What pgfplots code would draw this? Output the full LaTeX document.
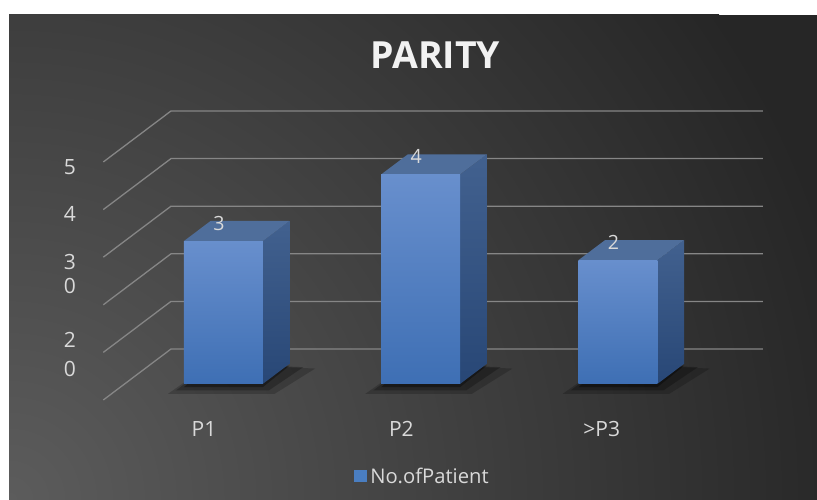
\documentclass[border=0pt]{standalone}
\usepackage{fontspec}
\setmainfont{Open Sans}
\usepackage{pgfplots}
\usepackage{pgfplotstable}
\pgfplotsset{compat=1.18}
\definecolor{bgdark}{RGB}{38,38,38}
\definecolor{bglight}{RGB}{92,92,92}
\definecolor{gridcol}{RGB}{134,134,134}
\definecolor{fronttop}{RGB}{104,143,205}
\definecolor{frontbot}{RGB}{62,111,180}
\definecolor{topface}{RGB}{79,110,155}
\definecolor{sidetop}{RGB}{66,97,143}
\definecolor{sidebot}{RGB}{40,71,118}
\definecolor{labtext}{RGB}{217,217,217}
\definecolor{titlecol}{RGB}{242,242,242}
\definecolor{legsq}{RGB}{74,126,193}

\pgfplotstableread{
x v lab
0 30 3
1 44 4
2 26 2
}\datatable

\begin{document}
\begin{tikzpicture}
\fill[white] (0pt,0pt) rectangle (817pt,500pt);
\begin{scope}
\clip (9pt,0pt) rectangle (817pt,485pt);
\fill[bgdark] (9pt,0pt) rectangle (817pt,485pt);
\shade[inner color=bglight, outer color=bgdark] (9pt,0pt) circle (860pt);
\end{scope}
\begin{axis}[
  at={(0pt,0pt)}, anchor=south west,
  scale only axis, width=817pt, height=500pt,
  xmin=-1.0236, xmax=3.1173, ymin=-21.01, ymax=84.03,
  clip=false,
  axis line style={draw=none}, major tick length=0pt,
  xtick={0.0104,1.011,2.026}, xticklabels={P1,P2,{>P3}},
  xticklabel style={anchor=base, yshift=63.3pt, font=\fontsize{21}{25}\selectfont, text=labtext},
  ytick={48.95,39.08,28.99,23.95,12.61,6.51}, yticklabels={5,4,3,0,2,0},
  yticklabel style={anchor=center, xshift=70pt, font=\fontsize{21}{25}\selectfont, text=labtext},
  title={PARITY},
  title style={at={(0.5330,0.85)}, anchor=base, font=\bfseries\fontsize{37.4}{44}\selectfont, text=titlecol},
  legend style={at={(0.4333,0.0476)}, anchor=west, draw=none, fill=none, inner sep=0pt,
    nodes={inner sep=0pt, text=labtext, font=\fontsize{20.2}{24}\selectfont},
    /tikz/every odd column/.append style={column sep=4pt}},
]
% gridlines: front edge (-0.5,v), back wall at depth offset (0.343,10.71)
\addplot[gridcol, line width=1.3pt, mark=none, forget plot] coordinates {(-0.5,0) (-0.157,10.71) (2.843,10.71)};
\addplot[gridcol, line width=1.3pt, mark=none, forget plot] coordinates {(-0.5,10) (-0.157,20.71) (2.843,20.71)};
\addplot[gridcol, line width=1.3pt, mark=none, forget plot] coordinates {(-0.5,20) (-0.157,30.71) (2.843,30.71)};
\addplot[gridcol, line width=1.3pt, mark=none, forget plot] coordinates {(-0.5,30) (-0.157,40.71) (2.843,40.71)};
\addplot[gridcol, line width=1.3pt, mark=none, forget plot] coordinates {(-0.5,40) (-0.157,50.71) (2.843,50.71)};
\addplot[gridcol, line width=1.3pt, mark=none, forget plot] coordinates {(-0.5,50) (-0.157,60.71) (2.843,60.71)};
% 3D bars
\pgfplotsinvokeforeach{0,1,2}{
  \pgfplotstablegetelem{#1}{v}\of\datatable
  \let\bv\pgfplotsretval
  \pgfmathsetmacro\xa{#1-0.2+0.1084}
  \pgfmathsetmacro\xb{#1+0.2+0.1084}
  \pgfmathsetmacro\xc{#1-0.2+0.2435}
  \pgfmathsetmacro\xd{#1+0.2+0.2435}
  \pgfmathsetmacro\yb{\bv+3.384}
  \pgfmathsetmacro\yd{\bv+7.604}
  \pgfmathsetmacro\sxa{\xa-0.08}
  \pgfmathsetmacro\sxb{\xb+0.06}
  \pgfmathsetmacro\sxd{\xd+0.13}
  \pgfmathsetmacro\txa{\xa-0.04}
  \pgfmathsetmacro\txb{\xb+0.03}
  \pgfmathsetmacro\txd{\xd+0.07}
  \addplot[draw=none, mark=none, fill=black, fill opacity=0.2, forget plot] coordinates {(\sxa,1.3) (\sxb,1.3) (\sxd,6.6) (\xc,7.6)};
  \addplot[draw=none, mark=none, fill=black, fill opacity=0.25, forget plot] coordinates {(\txa,2.0) (\txb,2.0) (\txd,6.9) (\xc,7.6)};
  \addplot[draw=none, mark=none, fill=black, fill opacity=0.35, forget plot] coordinates {(\xa,2.7) (\xb,2.7) (\xd,7.2) (\xc,7.6)};
  \addplot[draw=none, mark=none, top color=sidetop, bottom color=sidebot, forget plot] coordinates {(\xb,3.384) (\xd,7.604) (\xd,\yd) (\xb,\yb)};
  \addplot[draw=none, mark=none, fill=topface, forget plot] coordinates {(\xa,\yb) (\xb,\yb) (\xd,\yd) (\xc,\yd)};
  \addplot[draw=none, mark=none, top color=fronttop, bottom color=frontbot, forget plot] coordinates {(\xa,3.384) (\xb,3.384) (\xb,\yb) (\xa,\yb)};
}
% data labels
\addplot[draw=none, mark=none, forget plot, nodes near coords, point meta=explicit symbolic,
  nodes near coords style={anchor=center, xshift=-4.4pt, yshift=17.7pt, text=labtext, font=\fontsize{19.6}{23}\selectfont}]
  table[x expr=\thisrow{x}+0.1084, y expr=\thisrow{v}+3.384, meta=lab] {\datatable};
\addlegendimage{legend image code/.code={\fill[legsq] (0pt,-5.5pt) rectangle (11.7pt,5.5pt);}}
\addlegendentry{No.ofPatient}
\end{axis}
\pgfresetboundingbox
\path[use as bounding box] (0pt,0pt) rectangle (817pt,500pt);
\end{tikzpicture}
\end{document}
